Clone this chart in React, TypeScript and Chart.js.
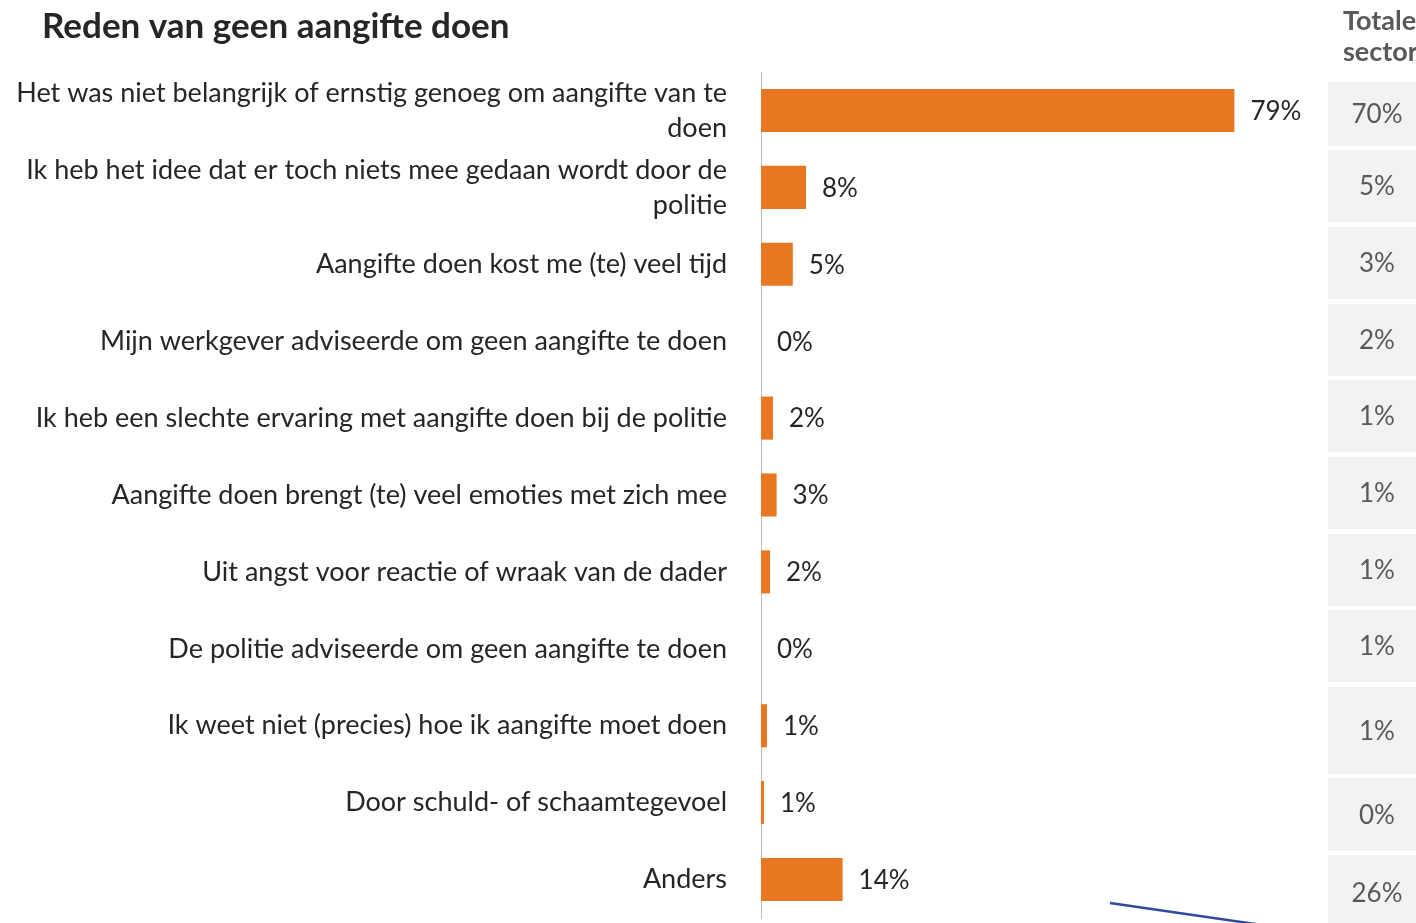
import React, { useEffect, useRef } from 'react';
import { Chart, registerables } from 'chart.js';

Chart.register(...registerables);

// ---------- data ----------
const TITLE = 'Reden van geen aangifte doen';

const CATEGORIES: (string | string[])[] = [
  ['Het was niet belangrijk of ernstig genoeg om aangifte van te', 'doen'],
  ['Ik heb het idee dat er toch niets mee gedaan wordt door de', 'politie'],
  'Aangifte doen kost me (te) veel tijd',
  'Mijn werkgever adviseerde om geen aangifte te doen',
  'Ik heb een slechte ervaring met aangifte doen bij de politie',
  'Aangifte doen brengt (te) veel emoties met zich mee',
  'Uit angst voor reactie of wraak van de dader',
  'De politie adviseerde om geen aangifte te doen',
  'Ik weet niet (precies) hoe ik aangifte moet doen',
  'Door schuld- of schaamtegevoel',
  'Anders',
];

const VALUES = [78.9, 7.5, 5.3, 0, 2.0, 2.6, 1.5, 0, 1.0, 0.5, 13.6];

const TOTAL_HEADER = ['Totale', 'sector'];
const TOTAL_SECTOR = [70, 5, 3, 2, 1, 1, 1, 1, 1, 0, 26];

// ---------- layout / style ----------
const W = 1416;
const H = 923;
const FONT = 'Lato, "Open Sans", sans-serif';
const BAR_COLOR = '#E87722';
const TEXT_DARK = '#262626';
const TEXT_GREY = '#595959';
const BOX_FILL = '#F2F2F2';
const AXIS_LEFT = 761;
const TABLE_LEFT = 1328;
const TABLE_TEXT_X = 1377;
const TABLE_ROW_TOPS = [82, 150, 227, 304, 380, 457, 534, 610, 687, 778, 855];
const TABLE_ROW_BOTTOMS = [146, 222, 299, 376, 452, 529, 606, 682, 774, 851, 935];

const overlayPlugin = {
  id: 'overlay',
  afterDraw(chart: any) {
    const ctx = chart.ctx as CanvasRenderingContext2D;
    ctx.save();

    // title
    ctx.fillStyle = TEXT_DARK;
    ctx.font = `bold 35px ${FONT}`;
    ctx.textAlign = 'left';
    ctx.textBaseline = 'middle';
    ctx.fillText(TITLE, 42, 27);

    // table header
    ctx.fillStyle = TEXT_GREY;
    ctx.font = `bold 27px ${FONT}`;
    ctx.fillText(TOTAL_HEADER[0], 1343, 21);
    ctx.fillText(TOTAL_HEADER[1], 1343, 52);

    // table boxes
    ctx.font = `26px ${FONT}`;
    ctx.textAlign = 'center';
    TOTAL_SECTOR.forEach((v, i) => {
      const top = TABLE_ROW_TOPS[i];
      const bottom = TABLE_ROW_BOTTOMS[i];
      ctx.fillStyle = BOX_FILL;
      ctx.fillRect(TABLE_LEFT, top, W - TABLE_LEFT, bottom - top);
      ctx.fillStyle = TEXT_GREY;
      ctx.fillText(`${v}%`, TABLE_TEXT_X, (top + Math.min(bottom, 931)) / 2 + 1);
    });

    // data labels
    const meta = chart.getDatasetMeta(0);
    ctx.fillStyle = TEXT_DARK;
    ctx.font = `26px ${FONT}`;
    ctx.textAlign = 'left';
    meta.data.forEach((bar: any, i: number) => {
      ctx.fillText(`${Math.round(VALUES[i])}%`, bar.x + 16, bar.y + 1);
    });

    // stray connector line
    ctx.strokeStyle = '#2F4B9E';
    ctx.lineWidth = 2.5;
    ctx.beginPath();
    ctx.moveTo(1110, 903);
    ctx.lineTo(1262, 925);
    ctx.stroke();

    ctx.restore();
  },
};

export default function App() {
  const ref = useRef<HTMLCanvasElement | null>(null);

  useEffect(() => {
    if (!ref.current) return;
    const chart = new Chart(ref.current, {
      type: 'bar',
      data: {
        labels: CATEGORIES,
        datasets: [
          {
            data: VALUES,
            backgroundColor: BAR_COLOR,
            borderWidth: 0,
            barPercentage: 0.56,
            categoryPercentage: 1,
          },
        ],
      },
      options: {
        indexAxis: 'y',
        animation: false,
        responsive: false,
        devicePixelRatio: 1,
        layout: { padding: { top: 72, bottom: 5, left: 0, right: 55 } },
        plugins: {
          legend: { display: false },
          tooltip: { enabled: false },
          title: { display: false },
        },
        scales: {
          x: {
            display: false,
            min: 0,
            max: 100,
          },
          y: {
            afterFit(scale: any) {
              scale.width = AXIS_LEFT;
              scale.paddingTop = 0;
              scale.paddingBottom = 0;
            },
            grid: { display: false, drawTicks: false },
            border: { display: true, color: '#BFBFBF', width: 1 },
            ticks: {
              color: TEXT_DARK,
              padding: 34,
              font: { family: FONT, size: 27, lineHeight: 1.3 },
              autoSkip: false,
            },
          },
        },
      },
      plugins: [overlayPlugin],
    });
    return () => chart.destroy();
  }, []);

  return (
    <div style={{ position: 'fixed', left: 0, top: 0, width: W, height: H, background: '#fff' }}>
      <canvas ref={ref} width={W} height={H} style={{ display: 'block' }} />
    </div>
  );
}
